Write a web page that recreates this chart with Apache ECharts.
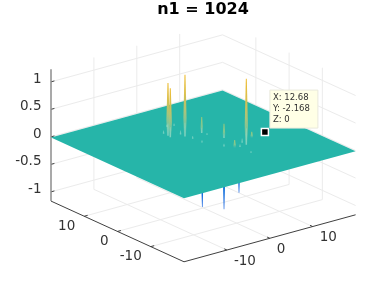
<!DOCTYPE html>
<html><head><meta charset="utf-8">
<style>html,body{margin:0;padding:0;background:#fff}#c{width:392px;height:293px}</style>
<script src="https://cdn.jsdelivr.net/npm/echarts@6/dist/echarts.min.js"></script>
</head><body><div id="c"></div>
<script>
// ---- values ----
const titleText = 'n1 = 1024';
const xTicks = [-10, 0, 10];
const yTicks = [-10, 0, 10];
const zTicks = [-1, -0.5, 0, 0.5, 1];
const zTickLabels = ['-1', '-0.5', '0', '0.5', '1'];
const planeX = [-20, 20, 20, -20];
const planeY = [-20, -20, 20, 20];
const planeZ = [0, 0, 0, 0];
const peakX = [-2.59, -2.73, -0.34, 5.95];
const peakY = [7.28, 6.40, 5.07, -5.26];
const peakZ = [0.96, 0.89, 1.12, 1.20];
const bumpX = [3.19, 4.84, 3.29, 8.97];
const bumpY = [4.59, 0.02, -5.19, -3.00];
const bumpZ = [0.29, 0.26, 0.14, 0.11];
const dipX = [-2.76, 1.42, 3.60];
const dipY = [-3.26, -4.40, -6.09];
const dipZ = [-1.00, -1.10, -0.80];
const speckX = [1.48, 0.13, 0.05, 3.41, 0.22, 2.15, 4.29, 4.08, -2.59, -2.73, -0.34, 5.95, 3.19, 4.84, -2.59, -0.34, 5.95];
const speckY = [10.7, 11.1, 3.26, 3.29, 0.68, -3.45, -5.50, -9.08, 7.28, 6.40, 5.07, -5.26, 4.59, 0.02, 8.6, 6.4, -4.0];
const speckZ = [0.04, 0.04, 0.05, 0.03, 0.04, 0.05, 0.05, 0.03, 0.22, 0.18, 0.25, 0.30, 0.10, 0.08, 0.06, 0.07, 0.08];
const tipX = 12.68, tipY = -2.168, tipZ = 0;
const tipLines = ['X: 12.68', 'Y: -2.168', 'Z: 0'];

// ---- view (orthographic camera of the 3-D axes) ----
const X0 = 203.3, Y0 = 143.7, ZS = 55;
const LIM = 20, ZMIN = -1.168, ZMAX = 1.23;
function proj(x, y, z) {
  return [X0 + 4.29 * x - 3.325 * y, Y0 - 1.175 * x - 1.5175 * y - ZS * z];
}
// ---- grid and axis segments, built from the ticks ----
const gridSegs = [];
xTicks.forEach(t => {
  gridSegs.push([t, -LIM, ZMIN, t, LIM, ZMIN]);
  gridSegs.push([t, LIM, ZMIN, t, LIM, ZMAX]);
});
yTicks.forEach(t => {
  gridSegs.push([-LIM, t, ZMIN, LIM, t, ZMIN]);
  gridSegs.push([LIM, t, ZMIN, LIM, t, ZMAX]);
});
zTicks.forEach(t => {
  gridSegs.push([-LIM, LIM, t, LIM, LIM, t]);
  gridSegs.push([LIM, LIM, t, LIM, -LIM, t]);
});
const T = 0.8;
const axisSegs = [
  [-LIM, LIM, ZMIN, -LIM, -LIM, ZMIN],
  [-LIM, -LIM, ZMIN, LIM, -LIM, ZMIN]
];
xTicks.forEach(t => axisSegs.push([t, -LIM, ZMIN, t, -LIM + T, ZMIN]));
yTicks.forEach(t => axisSegs.push([-LIM, t, ZMIN, -LIM + T, t, ZMIN]));
zTicks.forEach(t => axisSegs.push([-LIM, LIM, t, -LIM + T, LIM, t]));
const zAxisSeg = [[-LIM, LIM, ZMIN, -LIM, LIM, ZMAX]];

function pt(api, x, y, z) { return api.coord(proj(x, y, z)); }
function segSeries(data, stroke, width) {
  return {
    type: 'custom', coordinateSystem: 'cartesian2d', silent: true, data: data,
    encode: { x: 0, y: 1 }, clip: false,
    renderItem(p, api) {
      const d = data[p.dataIndex];
      const a = pt(api, d[0], d[1], d[2]), b = pt(api, d[3], d[4], d[5]);
      return { type: 'line', shape: { x1: a[0], y1: a[1], x2: b[0], y2: b[1] },
               style: { stroke: stroke, lineWidth: width } };
    }
  };
}
function zip3(a, b, c) { return a.map((v, i) => [v, b[i], c[i]]); }
function spikeSeries(data, stops, baseW, midW, tipW) {
  return {
    type: 'custom', coordinateSystem: 'cartesian2d', silent: true, data: data,
    encode: { x: 0, y: 1 }, clip: false,
    renderItem(p, api) {
      const d = data[p.dataIndex];
      const b = pt(api, d[0], d[1], 0), t = pt(api, d[0], d[1], d[2]);
      const mx = b[0] + (t[0] - b[0]) * 0.3, my = b[1] + (t[1] - b[1]) * 0.3;
      return { type: 'polygon',
        shape: { points: [[b[0] - baseW, b[1]], [mx - midW, my], [t[0] - tipW, t[1]], [t[0] + tipW, t[1]], [mx + midW, my], [b[0] + baseW, b[1]]] },
        style: { fill: new echarts.graphic.LinearGradient(0, 0, 0, 1, stops) } };
    }
  };
}
const peakStops = [
  { offset: 0, color: '#eebc30' }, { offset: 0.3, color: '#dcc04c' },
  { offset: 0.6, color: '#a8c47c' }, { offset: 0.85, color: 'rgba(120,200,165,0.85)' },
  { offset: 1, color: 'rgba(60,185,170,0.5)' }];
const bumpStops = [
  { offset: 0, color: '#9cc878' }, { offset: 0.6, color: '#7cc894' }, { offset: 1, color: 'rgba(60,185,170,0.6)' }];
const dipStops = [{ offset: 0, color: '#1c96cc' }, { offset: 0.6, color: '#1878dc' }, { offset: 1, color: '#1260e0' }];
const speckStops = [{ offset: 0, color: 'rgba(185,232,212,0.4)' }, { offset: 1, color: 'rgba(185,232,212,0.55)' }];

const FONT = 'DejaVu Sans';
const labels = [];
xTicks.forEach(t => { const q = proj(t, -LIM, ZMIN); labels.push([q[0] + 7, q[1] + 11, String(t), 'left']); });
yTicks.forEach(t => { const q = proj(-LIM, t, ZMIN); labels.push([q[0] - 9, q[1] + 10, String(t), 'right']); });
zTicks.forEach((t, i) => { const q = proj(-LIM, LIM, t); labels.push([q[0] - 9.5, q[1] - 2.5, zTickLabels[i], 'right']); });

const series = [
  segSeries(gridSegs, '#ebebeb', 1),
  segSeries(axisSegs, '#404040', 1),
  segSeries(zAxisSeg, '#8c8c8c', 1.5),
  spikeSeries(zip3(dipX, dipY, dipZ), dipStops, 2.2, 1.6, 0.3),
  {
    type: 'custom', coordinateSystem: 'cartesian2d', silent: true, clip: false,
    data: [[planeX[0], planeY[0], planeZ[0]]],
    encode: { x: 0, y: 1 },
    renderItem(p, api) {
      return { type: 'polygon',
        shape: { points: planeX.map((x, i) => pt(api, x, planeY[i], planeZ[i] - 0.012)) },
        style: { fill: '#26b5a9' } };
    }
  },
  spikeSeries(zip3(bumpX, bumpY, bumpZ), bumpStops, 1.0, 1.2, 0.45),
  spikeSeries(zip3(peakX, peakY, peakZ), peakStops, 1.0, 1.6, 0.5),
  spikeSeries(zip3(speckX, speckY, speckZ), speckStops, 0.7, 0.7, 0.3),
  {
    type: 'custom', coordinateSystem: 'cartesian2d', silent: true, clip: false,
    data: labels.map(l => [l[0], l[1]]), encode: { x: 0, y: 1 },
    renderItem(p, api) {
      const l = labels[p.dataIndex], c = api.coord([l[0], l[1]]);
      return { type: 'text', x: c[0], y: c[1],
        style: { text: l[2], fill: '#333333', font: '13.5px "' + FONT + '"', align: l[3], verticalAlign: 'middle' } };
    }
  },
  {
    type: 'custom', coordinateSystem: 'cartesian2d', silent: true, clip: false,
    data: [[tipX, tipY, tipZ]], encode: { x: 0, y: 1 }, z: 5,
    renderItem(p, api) {
      const c = pt(api, tipX, tipY, tipZ);
      const left = c[0] + 5, top = c[1] - 42;
      return { type: 'group', children: [
        { type: 'rect', shape: { x: left, y: top, width: 48, height: 38 },
          style: { fill: '#ffffe6', stroke: '#e9e9dc', lineWidth: 1 } },
        ...tipLines.map((s, i) => ({ type: 'text', x: left + 3, y: top + 8 + i * 10.7,
          style: { text: s, fill: '#303030', font: '8.5px "' + FONT + '"', verticalAlign: 'middle' } })),
        { type: 'rect', shape: { x: c[0] - 3.5, y: c[1] - 3.5, width: 7, height: 7 },
          style: { fill: '#000', stroke: '#fff', lineWidth: 1.5 } }
      ] };
    }
  }
];

const chart = echarts.init(document.getElementById('c'), null, { renderer: 'canvas', width: 392, height: 293 });
chart.setOption({
  animation: false,
  backgroundColor: '#ffffff',
  title: { text: titleText, left: 203, top: 2, padding: 0, textAlign: 'center',
    textStyle: { fontFamily: FONT, fontSize: 16, fontWeight: 'bold', color: '#000' } },
  tooltip: { show: false },
  grid: { left: 0, top: 0, right: 0, bottom: 0 },
  xAxis: { type: 'value', min: 0, max: 392, show: false },
  yAxis: { type: 'value', min: 0, max: 293, inverse: true, show: false },
  series: series
});
</script></body></html>
